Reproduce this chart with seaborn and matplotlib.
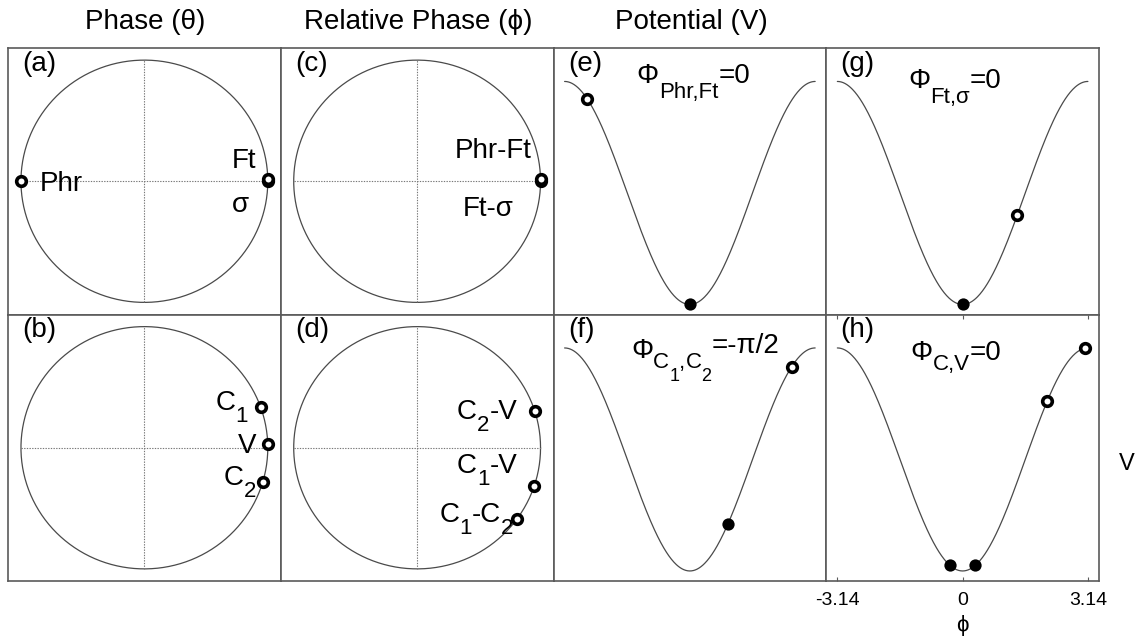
import numpy as np
import matplotlib
matplotlib.use("Agg")
import matplotlib.pyplot as plt
from matplotlib.transforms import IdentityTransform
import seaborn as sns

# phase angles (radians) of the points on the unit circles
phase_a = [np.pi, 0.0, 0.015]            # Phr, Ft, sigma
phase_b = [0.34, 0.03, -0.29]            # C1, V, C2
relphase_c = [0.0, 0.015]                # Phr-Ft, Ft-sigma
relphase_d = [0.31, -0.32, -0.63]        # C2-V, C1-V, C1-C2

# relative phases marked on the potential curves
pot_e_open = [-2.57]
pot_e_fill = [0.0]
pot_f_open = [2.55]
pot_f_fill = [0.95]
pot_g_open = [1.37]
pot_g_fill = [0.0]
pot_h_open = [2.12, 3.07]
pot_h_fill = [-0.32, 0.32]

xticks = [-3.14, 0, 3.14]
xtick_labels = ["-3.14", "0", "3.14"]

headers = ["Phase (\u03b8)", "Relative Phase (\u03d5)", "Potential (V)"]

sns.set_theme(style="white")
plt.rcParams["font.family"] = ["Liberation Sans", "DejaVu Sans"]
plt.rcParams["text.color"] = "black"
plt.rcParams["xtick.labelcolor"] = "black"
plt.rcParams["axes.labelcolor"] = "black"

W, H = 1138, 642
fig, axes = plt.subplots(2, 4, figsize=(W / 100, H / 100), dpi=100)
fig.subplots_adjust(left=8 / W, right=1099 / W, top=1 - 48 / H,
                    bottom=1 - 581 / H, wspace=0, hspace=0)

line_col = "#4a4a4a"
FS = 20
SUB = 16
SUB2 = 13


def potential(phi):
    return -np.cos(phi)


def open_pts(ax, x, y):
    sns.scatterplot(x=x, y=y, ax=ax, s=48, color="white",
                    edgecolor="black", linewidth=2.6, zorder=4)


def fill_pts(ax, x, y):
    sns.scatterplot(x=x, y=y, ax=ax, s=78, color="black",
                    edgecolor="black", linewidth=0, zorder=4)


def circle_panel(ax, angles):
    t = np.linspace(0, 2 * np.pi, 400)
    sns.lineplot(x=np.cos(t), y=np.sin(t), ax=ax, sort=False,
                 estimator=None, color=line_col, lw=0.9)
    ax.plot([-1, 1], [0, 0], color="#777777", lw=0.8, ls=(0, (1.2, 1.2)))
    ax.plot([0, 0], [-1, 1], color="#777777", lw=0.8, ls=(0, (1.2, 1.2)))
    a = np.array(angles)
    open_pts(ax, np.cos(a), np.sin(a))
    ax.set_xlim(-1.105, 1.105)
    ax.set_ylim(-1.10, 1.10)


def potential_panel(ax, open_x, fill_x):
    phi = np.linspace(-np.pi, np.pi, 400)
    sns.lineplot(x=phi, y=potential(phi), ax=ax, estimator=None,
                 color=line_col, lw=0.9)
    fx = np.array(fill_x)
    fill_pts(ax, fx, potential(fx))
    ox = np.array(open_x)
    open_pts(ax, ox, potential(ox))
    ax.set_xlim(-3.42, 3.42)
    ax.set_ylim(-1.09, 1.30)


circle_panel(axes[0, 0], phase_a)
circle_panel(axes[1, 0], phase_b)
circle_panel(axes[0, 1], relphase_c)
circle_panel(axes[1, 1], relphase_d)
potential_panel(axes[0, 2], pot_e_open, pot_e_fill)
potential_panel(axes[1, 2], pot_f_open, pot_f_fill)
potential_panel(axes[0, 3], pot_g_open, pot_g_fill)
potential_panel(axes[1, 3], pot_h_open, pot_h_fill)

for ax in axes.flat:
    ax.set_xticks([])
    ax.set_yticks([])
    ax.set_xlabel("")
    ax.set_ylabel("")
    for sp in ax.spines.values():
        sp.set_color("#5a5a5a")
        sp.set_linewidth(1.2)

renderer = fig.canvas.get_renderer()


def chain(ax, x, y, parts, ha="left", coords="data"):
    # text made of pieces (string, size, drop in px) set side by side
    trans = ax.transData if coords == "data" else ax.transAxes
    x0, y0 = trans.transform((x, y))
    texts, widths = [], []
    for s, size, dy in parts:
        t = fig.text(0, 0, s, fontsize=size, transform=IdentityTransform(),
                     ha="left", va="baseline")
        widths.append(t.get_window_extent(renderer).width)
        texts.append(t)
    total = sum(widths)
    cur = x0 - total if ha == "right" else x0
    for t, w, (s, size, dy) in zip(texts, widths, parts):
        t.set_position((cur, y0 - dy))
        cur += w


# panel letters
letters = [["(a)", "(c)", "(e)", "(g)"], ["(b)", "(d)", "(f)", "(h)"]]
for r in range(2):
    for c in range(4):
        axes[r, c].text(0.053, 0.94, letters[r][c], transform=axes[r, c].transAxes,
                        fontsize=FS, ha="left", va="center")

# labels in the circle panels
ax = axes[0, 0]
ax.text(-0.845, -0.083, "Phr", fontsize=FS, ha="left", va="baseline")
ax.text(0.905, 0.11, "Ft", fontsize=FS, ha="right", va="baseline")
ax.text(0.78, -0.25, "\u03c3", fontsize=FS, ha="center", va="baseline")
ax = axes[0, 1]
ax.text(0.925, 0.19, "Phr-Ft", fontsize=FS, ha="right", va="baseline")
ax.text(0.78, -0.29, "Ft-\u03c3", fontsize=FS, ha="right", va="baseline")
ax = axes[1, 0]
chain(ax, 0.84, 0.31, [("C", FS, 0), ("1", SUB, 12)], ha="right")
ax.text(0.905, -0.04, "V", fontsize=FS, ha="right", va="baseline")
chain(ax, 0.905, -0.31, [("C", FS, 0), ("2", SUB, 12)], ha="right")
ax = axes[1, 1]
chain(ax, 0.81, 0.235, [("C", FS, 0), ("2", SUB, 12), ("-V", FS, 0)], ha="right")
chain(ax, 0.81, -0.21, [("C", FS, 0), ("1", SUB, 12), ("-V", FS, 0)], ha="right")
chain(ax, 0.78, -0.61, [("C", FS, 0), ("1", SUB, 12), ("-C", FS, 0),
                        ("2", SUB, 12)], ha="right")

# coupling labels in the potential panels
chain(axes[0, 2], 0.305, 0.868,
      [("\u03a6", FS, 0), ("Phr,Ft", SUB, 15), ("=0", FS, 0)], coords="axes")
chain(axes[0, 3], 0.30, 0.85,
      [("\u03a6", FS, 0), ("Ft,\u03c3", SUB, 15), ("=0", FS, 0)], coords="axes")
chain(axes[1, 2], 0.285, 0.835,
      [("\u03a6", FS, 0), ("C", SUB, 10), ("1", SUB2, 23), (",", SUB, 10),
       ("C", SUB, 10), ("2", SUB2, 23), ("=-\u03c0/2", FS, -5)], coords="axes")
chain(axes[1, 3], 0.31, 0.83,
      [("\u03a6", FS, 0), ("C,V", SUB, 10), ("=0", FS, 0)], coords="axes")

# axis of the last panel
ax = axes[1, 3]
ax.set_xticks(xticks)
ax.set_xticklabels(xtick_labels)
ax.tick_params(axis="x", direction="in", top=True, bottom=True, length=3,
               width=0.8, color="#5a5a5a", labelsize=14, pad=8)
ax.set_xlabel("\u03d5", fontsize=16, labelpad=4)
ax.text(1.103, 0.44, "V", transform=ax.transAxes, fontsize=17,
        ha="center", va="center")

# column headers
for xc, txt in zip([145, 418, 691], headers):
    fig.text(xc / W, 1 - 22 / H, txt, fontsize=FS, ha="center", va="center")

fig.savefig("out.png", dpi=100)
